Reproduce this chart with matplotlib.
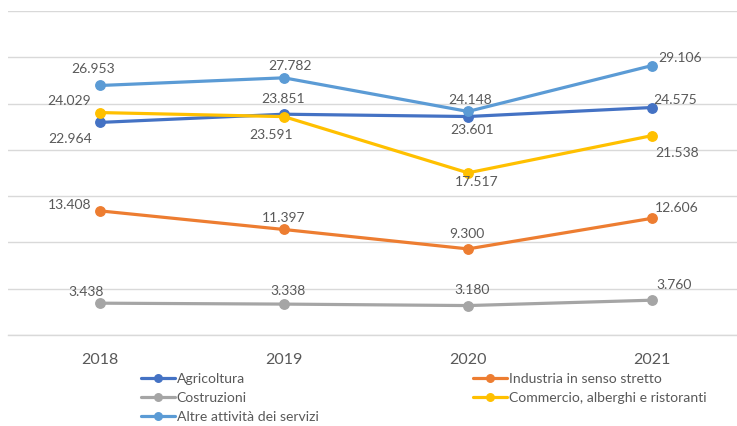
import matplotlib
matplotlib.use("Agg")
import matplotlib.pyplot as plt

plt.rcParams['font.family'] = ['Lato', 'DejaVu Sans']

years = ["2018", "2019", "2020", "2021"]

agricoltura = [22.964, 23.851, 23.601, 24.575]
industria = [13.408, 11.397, 9.300, 12.606]
costruzioni = [3.438, 3.338, 3.180, 3.760]
commercio = [24.029, 23.591, 17.517, 21.538]
altre_servizi = [26.953, 27.782, 24.148, 29.106]

series = [
    ("Agricoltura", agricoltura, "#4472C4"),
    ("Industria in senso stretto", industria, "#ED7D31"),
    ("Costruzioni", costruzioni, "#A5A5A5"),
    ("Commercio, alberghi e ristoranti", commercio, "#FFC000"),
    ("Altre attività dei servizi", altre_servizi, "#5B9BD5"),
]

# data-label offsets (pixels) relative to each marker
label_offsets = {
    "Agricoltura": [(-30, -17), (-1, 15), (4, -13.5), (23, 7.5)],
    "Industria in senso stretto": [(-30, 6), (0, 11), (-1, 15), (25, 10)],
    "Costruzioni": [(-14, 11.5), (4, 13), (4, 15.5), (22, 15)],
    "Commercio, alberghi e ristoranti": [(-31, 12), (-13, -18), (9, -9), (25, -17)],
    "Altre attività dei servizi": [(-7, 16.5), (6, 12), (2, 11.5), (28, 8)],
}

W, H = 737, 426
fig = plt.figure(figsize=(W / 100, H / 100), dpi=100)
ax = fig.add_axes([8 / W, (H - 335) / H, 736 / W, 324 / H])

x = list(range(len(years)))
text_color = "#595959"
grid_color = "#D9D9D9"

handles = {}
for name, vals, color in series:
    ln, = ax.plot(x, vals, color=color, lw=2.3, marker="o", ms=6.8,
                  solid_capstyle="round", label=name, clip_on=False)
    handles[name] = ln
    for xi, v, (dx, dy) in zip(x, vals, label_offsets[name]):
        ax.annotate(f"{v:.3f}", (xi, v), xytext=(dx, dy), textcoords="offset pixels",
                    ha="center", va="center", fontsize=10, color=text_color)

ax.set_xlim(-0.5, 3.5)
ax.set_ylim(0, 35)
ax.set_yticks(range(0, 36, 5))
ax.set_yticklabels([])
ax.tick_params(axis="y", length=0)
ax.grid(axis="y", color=grid_color, lw=1.0)
ax.set_axisbelow(True)
ax.set_xticks(x)
ax.set_xticklabels(years, fontsize=11.5, color=text_color)
ax.tick_params(axis="x", length=0, pad=13)
for s in ["top", "right", "left"]:
    ax.spines[s].set_visible(False)
ax.spines["bottom"].set_color(grid_color)
ax.spines["bottom"].set_linewidth(1.0)

leg_kw = dict(frameon=False, fontsize=10.1, labelcolor=text_color, handlelength=2.4,
              handletextpad=0.15, labelspacing=0.5, borderpad=0, borderaxespad=0,
              markerscale=0.8)
col1 = ["Agricoltura", "Costruzioni", "Altre attività dei servizi"]
col2 = ["Industria in senso stretto", "Commercio, alberghi e ristoranti"]
leg1 = fig.legend([handles[n] for n in col1], col1, loc="upper left",
                  bbox_to_anchor=(141 / W, (H - 373) / H), **leg_kw)
leg2 = fig.legend([handles[n] for n in col2], col2, loc="upper left",
                  bbox_to_anchor=(473 / W, (H - 373) / H), **leg_kw)

fig.savefig("out.png", dpi=100)
